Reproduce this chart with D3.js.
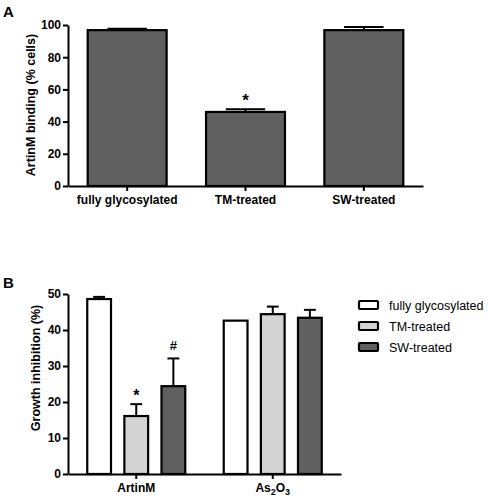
<!DOCTYPE html>
<html><head><meta charset="utf-8">
<script src="https://cdn.jsdelivr.net/npm/d3@7"></script>
<style>body{margin:0;background:#fff;} svg{display:block;font-family:Arial, "Liberation Sans", sans-serif;}</style>
</head><body>
<svg id="c" width="488" height="501"></svg>
<script>
// Panel A data
const catsA = ["fully glycosylated", "TM-treated", "SW-treated"];
const valsA = [96.8, 46.0, 96.8];
const errA = [0.8, 1.7, 2.0];
const marksA = ["", "*", ""];
const ticksA = [0, 20, 40, 60, 80, 100];

// Panel B data
const groupsB = ["ArtinM", "As2O3"];
const seriesB = ["fully glycosylated", "TM-treated", "SW-treated"];
const valsB_fully = [48.6, 42.6];
const valsB_TM = [16.1, 44.4];
const valsB_SW = [24.4, 43.4];
const errB_fully = [0.6, 0.0];
const errB_TM = [3.3, 2.1];
const errB_SW = [7.7, 2.2];
const marksB_TM = ["*", ""];
const marksB_SW = ["#", ""];
const ticksB = [0, 10, 20, 30, 40, 50];
const colorsB = ["#ffffff", "#d3d3d3", "#606060"];

const svg = d3.select("#c");

function styleAxis(g) {
  g.selectAll("path.domain").attr("stroke", "#000").attr("stroke-width", 2);
  g.selectAll(".tick line").attr("stroke", "#000").attr("stroke-width", 2);
  g.selectAll(".tick text").attr("fill", "#000").attr("font-weight", "bold").attr("font-size", 12);
}

// ---------- Panel A ----------
const xA = d3.scaleBand().domain(catsA).range([68, 423]).paddingInner(0.333).paddingOuter(0.1665);
const yA = d3.scaleLinear().domain([0, 100]).range([186, 25]);

const gA = svg.append("g");
gA.selectAll("line.errA").data(catsA).join("line")
  .attr("x1", d => xA(d) + xA.bandwidth() / 2).attr("x2", d => xA(d) + xA.bandwidth() / 2)
  .attr("y1", (d, i) => yA(valsA[i])).attr("y2", (d, i) => yA(valsA[i] + errA[i]))
  .attr("stroke", "#000").attr("stroke-width", 2);
gA.selectAll("line.capA").data(catsA).join("line")
  .attr("x1", d => xA(d) + xA.bandwidth() / 4).attr("x2", d => xA(d) + xA.bandwidth() * 3 / 4)
  .attr("y1", (d, i) => yA(valsA[i] + errA[i])).attr("y2", (d, i) => yA(valsA[i] + errA[i]))
  .attr("stroke", "#000").attr("stroke-width", 2);
gA.selectAll("rect").data(catsA).join("rect")
  .attr("x", d => xA(d)).attr("width", xA.bandwidth())
  .attr("y", (d, i) => yA(valsA[i])).attr("height", (d, i) => yA(0) - yA(valsA[i]))
  .attr("fill", "#606060").attr("stroke", "#000").attr("stroke-width", 2.2);
gA.selectAll("text.markA").data(catsA).join("text")
  .attr("x", d => xA(d) + xA.bandwidth() / 2)
  .attr("y", (d, i) => yA(valsA[i] + errA[i]) - 3)
  .attr("text-anchor", "middle").attr("font-weight", "bold").attr("font-size", 17)
  .text((d, i) => marksA[i]);

const axYA = svg.append("g").attr("transform", "translate(68,0)")
  .call(d3.axisLeft(yA).tickValues(ticksA).tickSize(5).tickPadding(2).tickSizeOuter(0));
styleAxis(axYA);
const axXA = svg.append("g").attr("transform", "translate(0,186)")
  .call(d3.axisBottom(xA).tickSize(5).tickPadding(4).tickSizeOuter(0));
styleAxis(axXA);

svg.append("text").attr("transform", "translate(35,105) rotate(-90)")
  .attr("text-anchor", "middle").attr("font-weight", "bold").attr("font-size", 12.5)
  .text("ArtinM binding (% cells)");
svg.append("text").attr("x", 3).attr("y", 17).attr("font-weight", "bold").attr("font-size", 15).text("A");

// ---------- Panel B ----------
const x0 = d3.scaleBand().domain(groupsB).range([68, 341]).paddingInner(0.282).paddingOuter(0.141);
const x1 = d3.scaleBand().domain(seriesB).range([0, x0.bandwidth()]).paddingInner(0.36);
const yB = d3.scaleLinear().domain([0, 50]).range([474, 294]);

const valsB = [valsB_fully, valsB_TM, valsB_SW];
const errB = [errB_fully, errB_TM, errB_SW];
const marksB = [["", ""], marksB_TM, marksB_SW];
const rows = [];
groupsB.forEach((g, gi) => seriesB.forEach((s, si) => rows.push({
  g, s, si, v: valsB[si][gi], e: errB[si][gi], m: marksB[si][gi]
})));

const gB = svg.append("g");
const bx = d => x0(d.g) + x1(d.s);
const bw = x1.bandwidth();
gB.selectAll("line.errB").data(rows.filter(d => d.e > 0)).join("line")
  .attr("x1", d => bx(d) + bw / 2).attr("x2", d => bx(d) + bw / 2)
  .attr("y1", d => yB(d.v)).attr("y2", d => yB(d.v + d.e))
  .attr("stroke", "#000").attr("stroke-width", 2);
gB.selectAll("line.capB").data(rows.filter(d => d.e > 0)).join("line")
  .attr("x1", d => bx(d) + bw / 4).attr("x2", d => bx(d) + bw * 3 / 4)
  .attr("y1", d => yB(d.v + d.e)).attr("y2", d => yB(d.v + d.e))
  .attr("stroke", "#000").attr("stroke-width", 2);
gB.selectAll("rect").data(rows).join("rect")
  .attr("x", bx).attr("width", bw)
  .attr("y", d => yB(d.v)).attr("height", d => yB(0) - yB(d.v))
  .attr("fill", d => colorsB[d.si]).attr("stroke", "#000").attr("stroke-width", 2.2);
gB.selectAll("text.markB").data(rows.filter(d => d.m)).join("text")
  .attr("x", d => bx(d) + bw / 2).attr("y", d => yB(d.v + d.e) - (d.m === "*" ? 3 : 8))
  .attr("text-anchor", "middle").attr("font-weight", "bold")
  .attr("font-size", d => d.m === "*" ? 16 : 13)
  .text(d => d.m);

const axYB = svg.append("g").attr("transform", "translate(68,0)")
  .call(d3.axisLeft(yB).tickValues(ticksB).tickSize(5).tickPadding(2).tickSizeOuter(0));
styleAxis(axYB);
const axXB = svg.append("g").attr("transform", "translate(0,474)")
  .call(d3.axisBottom(x0).tickSize(5).tickPadding(4).tickSizeOuter(0).tickFormat(() => ""));
styleAxis(axXB);
axXB.selectAll(".tick").each(function(d) {
  const t = d3.select(this).select("text");
  if (d === "As2O3") {
    t.append("tspan").text("As");
    t.append("tspan").attr("font-size", 9).attr("dy", 3).text("2");
    t.append("tspan").attr("dy", -3).text("O");
    t.append("tspan").attr("font-size", 9).attr("dy", 3).text("3");
  } else {
    t.text(d);
  }
});

svg.append("text").attr("transform", "translate(40,368) rotate(-90)")
  .attr("text-anchor", "middle").attr("font-weight", "bold").attr("font-size", 12.5)
  .text("Growth inhibition (%)");
svg.append("text").attr("x", 3).attr("y", 288).attr("font-weight", "bold").attr("font-size", 15).text("B");

// Legend
const leg = svg.append("g");
seriesB.forEach((s, i) => {
  const yy = 305 + i * 21;
  leg.append("rect").attr("x", 359).attr("y", yy - 4).attr("width", 19).attr("height", 8)
    .attr("fill", colorsB[i]).attr("stroke", "#000").attr("stroke-width", 2.2).attr("rx", 1);
  leg.append("text").attr("x", 389).attr("y", yy + 4.5).attr("font-size", 12.5).text(s);
});
</script>
</body></html>
